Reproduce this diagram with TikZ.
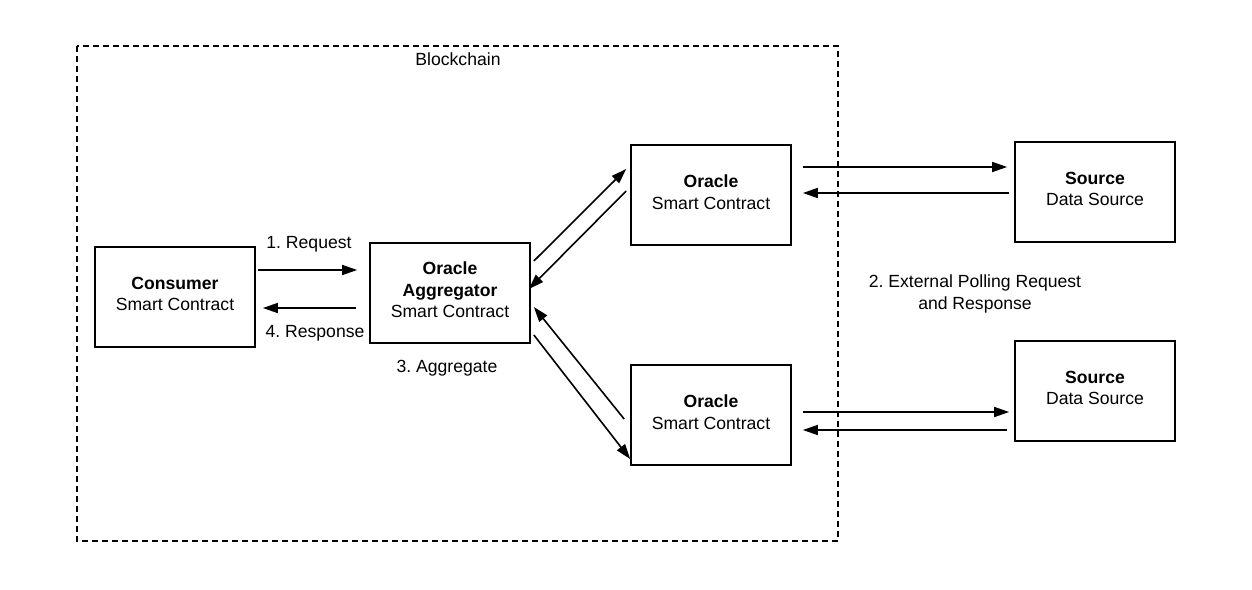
\documentclass[tikz,border=0pt]{standalone}
\usepackage{fontspec}
\setmainfont{Liberation Sans}
\usetikzlibrary{arrows.meta,calc}
\begin{document}
\frenchspacing
\begin{tikzpicture}[x=1pt,y=-1pt,
  every node/.style={font=\fontsize{17.6}{21.5}\selectfont},
  box/.style={draw,line width=1.7pt,minimum width=160pt,minimum height=100pt,inner sep=0pt},
  boxtext/.style={align=center,inner sep=0pt,yshift=3pt},
  lbl/.style={align=center,inner sep=0pt,yshift=-2pt},
  conn/.style={line width=1.6pt,-{Triangle[length=15pt,width=10pt]}}]
\useasboundingbox[fill=white] (0,0) rectangle (1252,589);
\draw[line width=1.6pt,dash pattern=on 6pt off 4pt] (77,46) rectangle (838,541);
\node[lbl,yshift=2pt] (bc) at (458,59) {Blockchain};
\node[box,label={[boxtext]center:{\textbf{Consumer}\\Smart Contract}}] (cons) at (175,297) {};
\node[box,label={[boxtext]center:{\textbf{Oracle}\\\textbf{Aggregator}\\Smart Contract}}] (agg) at (450,293) {};
\node[box,label={[boxtext]center:{\textbf{Oracle}\\Smart Contract}}] (o1) at (711,195) {};
\node[box,label={[boxtext]center:{\textbf{Oracle}\\Smart Contract}}] (o2) at (711,415) {};
\node[box,label={[boxtext]center:{\textbf{Source}\\Data Source}}] (s1) at (1095,192) {};
\node[box,label={[boxtext]center:{\textbf{Source}\\Data Source}}] (s2) at (1095,391) {};
\node[lbl] (lreq) at (309,242) {1. Request};
\node[lbl] (lresp) at (315,331) {4. Response};
\node[lbl] (lagg) at (447,366) {3. Aggregate};
\node[lbl] (lext) at (975,292) {2. External Polling Request\\and Response};
\draw[conn] ($(cons.east)+(2,-27)$) -- ($(agg.west)+(-12,-23)$);
\draw[conn] ($(agg.west)+(-13,15)$) -- ($(cons.east)+(7,11)$);
\draw[conn] ($(agg.east)+(3,-32)$) -- ($(o1.west)+(-4,-26)$);
\draw[conn] ($(o1.west)+(-4,-4)$) -- ($(agg.east)+(-2,-4)$);
\draw[conn] ($(o2.west)+(-6,4)$) -- ($(agg.east)+(3,14)$);
\draw[conn] ($(agg.east)+(3,42)$) -- ($(o2.west)+(0,44)$);
\draw[conn] ($(o1.east)+(11,-28)$) -- ($(s1.west)+(-7,-25)$);
\draw[conn] ($(s1.west)+(-5,1)$) -- ($(o1.east)+(11,-2)$);
\draw[conn] ($(o2.east)+(11,-3)$) -- ($(s2.west)+(-5,21)$);
\draw[conn] ($(s2.west)+(-7,39)$) -- ($(o2.east)+(11,15)$);
\end{tikzpicture}
\end{document}
